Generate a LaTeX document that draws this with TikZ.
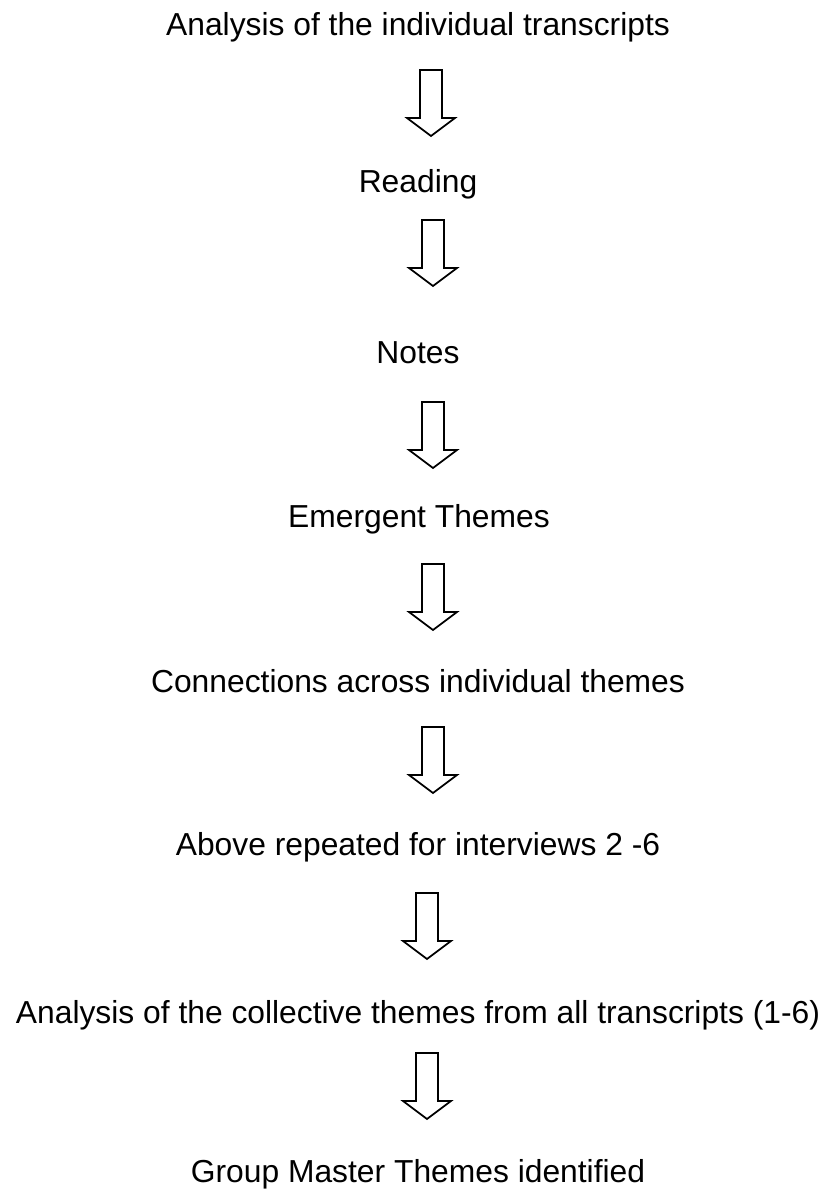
\documentclass[tikz,border=0pt]{standalone}
\usepackage{fontspec}
\setmainfont{Liberation Sans}
\usetikzlibrary{calc}

\tikzset{
	steptext/.style={anchor=base, inner sep=0pt, font=\fontsize{23.85}{28}\selectfont},
	hollowarrow/.style={draw, fill=white, line width=1.3pt, line join=miter}
}

\begin{document}
\begin{tikzpicture}[x=0.75pt, y=-0.75pt]
				\useasboundingbox (0, 0) rectangle (830, 1189);
				
				\node[steptext] (s1) at (418, 35) {Analysis of the individual transcripts};
				\node[steptext] (s2) at (418, 192) {Reading};
				\node[steptext] (s3) at (418, 363) {Notes};
				\node[steptext] (s4) at (419, 527) {Emergent Themes};
				\node[steptext] (s5) at (418, 692) {Connections across individual themes};
				\node[steptext] (s6) at (418, 855) {Above repeated for interviews 2 -6};
				\node[steptext] (s7) at (418, 1023) {Analysis of the collective themes from all transcripts (1-6)};
				\node[steptext] (s8) at (418, 1182) {Group Master Themes identified};
				
				% tops of the arrows
				\coordinate (a1) at (431, 70);
				\coordinate (a2) at (433, 220);
				\coordinate (a3) at (433, 402);
				\coordinate (a4) at (433, 564);
				\coordinate (a5) at (433, 727);
				\coordinate (a6) at (427, 893);
				\coordinate (a7) at (427, 1053);
				
				\foreach \i in {1,...,7}
					\draw[hollowarrow] ([shift={(-11, 0)}]a\i) -- ++(0, 48) -- ++(-13, 0) -- ++(24, 18) -- ++(24, -18) -- ++(-13, 0) -- ++(0, -48) -- cycle;
			\end{tikzpicture}
\end{document}
